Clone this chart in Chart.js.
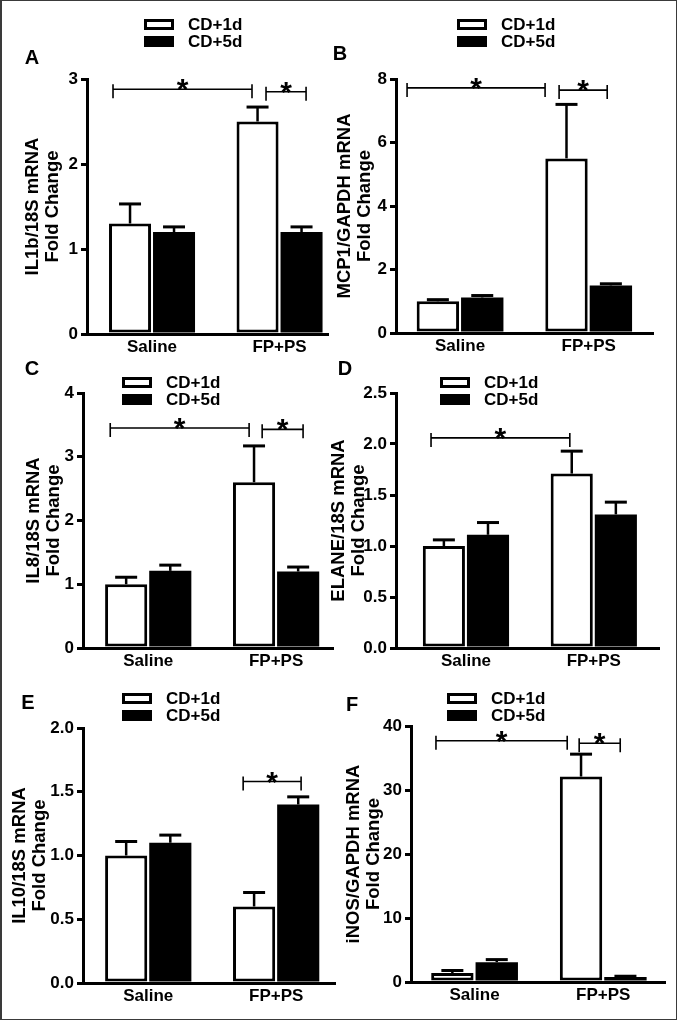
<!DOCTYPE html>
<html><head><meta charset="utf-8">
<script src="https://cdn.jsdelivr.net/npm/chart.js@4.4.1/dist/chart.umd.min.js"></script>
<style>
html,body{margin:0;padding:0;background:#fff;}
#wrap{position:relative;width:677px;height:1020px;overflow:hidden;background:#fff;}
#frame{position:absolute;left:0;top:0;width:677px;height:1020px;box-sizing:border-box;border:1px solid #3a3a3a;border-left-width:2px;pointer-events:none;}
canvas{position:absolute;}
</style></head><body>
<div id="wrap">
<canvas id="cA"></canvas><canvas id="cB"></canvas><canvas id="cC"></canvas>
<canvas id="cD"></canvas><canvas id="cE"></canvas><canvas id="cF"></canvas>
<div id="frame"></div>
</div>
<script>
// ---------- data ----------
const categories = ['Saline', 'FP+PS'];
const seriesLabels = ['CD+1d', 'CD+5d'];
const yTitleA = ['IL1b/18S mRNA', 'Fold Change'];
const yTitleB = ['MCP1/GAPDH mRNA', 'Fold Change'];
const yTitleC = ['IL8/18S mRNA', 'Fold Change'];
const yTitleD = ['ELANE/18S mRNA', 'Fold Change'];
const yTitleE = ['IL10/18S mRNA', 'Fold Change'];
const yTitleF = ['iNOS/GAPDH mRNA', 'Fold Change'];

// A: IL1b
const il1bCD1 = [1.3, 2.5];   const il1bCD1Err = [0.23, 0.17];
const il1bCD5 = [1.2, 1.2];   const il1bCD5Err = [0.06, 0.06];
// B: MCP1
const mcp1CD1 = [1.0, 5.5];   const mcp1CD1Err = [0.05, 1.7];
const mcp1CD5 = [1.12, 1.5];  const mcp1CD5Err = [0.06, 0.05];
// C: IL8
const il8CD1 = [1.0, 2.6];    const il8CD1Err = [0.11, 0.57];
const il8CD5 = [1.21, 1.2];   const il8CD5Err = [0.09, 0.07];
// D: ELANE
const elaneCD1 = [1.0, 1.71]; const elaneCD1Err = [0.06, 0.22];
const elaneCD5 = [1.11, 1.31]; const elaneCD5Err = [0.12, 0.12];
// E: IL10
const il10CD1 = [1.0, 0.6];   const il10CD1Err = [0.11, 0.11];
const il10CD5 = [1.1, 1.4];   const il10CD5Err = [0.06, 0.06];
// F: iNOS
const inosCD1 = [1.4, 32.1];  const inosCD1Err = [0.4, 3.5];
const inosCD5 = [3.1, 0.8];   const inosCD5Err = [0.4, 0.1];

// y-axis ticks (max, step)
const yTicksA = [3, 1];  const yTicksB = [8, 2];  const yTicksC = [4, 1];
const yTicksD = [2.5, 0.5]; const yTicksE = [2.0, 0.5]; const yTicksF = [40, 10];

// significance brackets: [from x, to x, at y] in axis units (groups at x = 1, 2)
const sigA = [[0.694, 1.784, 2.88], [1.894, 2.208, 2.85]];
const sigB = [[0.588, 1.661, 7.72], [1.770, 2.144, 7.65]];
const sigC = [[0.703, 1.789, 3.45], [1.891, 2.211, 3.43]];
const sigD = [[0.727, 1.8125, 2.06]];
const sigE = [[1.742, 2.195, 1.58]];
const sigF = [[0.700, 1.720, 37.7], [1.813, 2.132, 37.3]];

// ---------- layout (page px) ----------
const FONT = "'Liberation Sans', Arial, Helvetica, sans-serif";
const TITLE_SIZE = 18.5, TITLE_LH = 1.05;
const LH = TITLE_SIZE * TITLE_LH;

const panels = [
  {id:'cA', rect:[0,0,338,362],   area:[87,79,328,334],  titleX:33,  xr:[0.49,2.38],  yt:yTicksA, dec:0, title:yTitleA,
   cd1:il1bCD1, cd1e:il1bCD1Err, cd5:il1bCD5, cd5e:il1bCD5Err, sig:sigA, legend:[144,19], letter:['A',32,58]},
  {id:'cB', rect:[330,0,347,362], area:[396,79,653,333], titleX:345, xr:[0.502,2.50], yt:yTicksB, dec:0, title:yTitleB,
   cd1:mcp1CD1, cd1e:mcp1CD1Err, cd5:mcp1CD5, cd5e:mcp1CD5Err, sig:sigB, legend:[457,19], letter:['B',340,54]},
  {id:'cC', rect:[0,358,338,314], area:[83,393,333,648], titleX:34,  xr:[0.49,2.445], yt:yTicksC, dec:0, title:yTitleC,
   cd1:il8CD1, cd1e:il8CD1Err, cd5:il8CD5, cd5e:il8CD5Err, sig:sigC, legend:[122,377], letter:['C',32,369]},
  {id:'cD', rect:[330,358,347,314], area:[396,393,659,648], titleX:339, xr:[0.453,2.51], yt:yTicksD, dec:1, title:yTitleD,
   cd1:elaneCD1, cd1e:elaneCD1Err, cd5:elaneCD5, cd5e:elaneCD5Err, sig:sigD, legend:[440,377], letter:['D',345,369]},
  {id:'cE', rect:[0,680,338,340], area:[83,728,335,983], titleX:20,  xr:[0.49,2.46],  yt:yTicksE, dec:1, title:yTitleE,
   cd1:il10CD1, cd1e:il10CD1Err, cd5:il10CD5, cd5e:il10CD5Err, sig:sigE, legend:[122,693], letter:['E',28,703]},
  {id:'cF', rect:[330,680,347,340], area:[411,726,665,982], titleX:354, xr:[0.506,2.48], yt:yTicksF, dec:0, title:yTitleF,
   cd1:inosCD1, cd1e:inosCD1Err, cd5:inosCD5, cd5e:inosCD5Err, sig:sigF, legend:[447,693], letter:['F',352,705]}
];

Chart.defaults.font.family = FONT;
Chart.defaults.font.weight = 'bold';
Chart.defaults.font.size = 17;
Chart.defaults.color = '#000';

const decor = {
  id: 'decor',
  afterDatasetsDraw(chart, args, o) {
    const ctx = chart.ctx, xs = chart.scales.x, ys = chart.scales.y;
    ctx.save();
    ctx.strokeStyle = '#000';
    ctx.fillStyle = '#000';
    chart.data.datasets.forEach((ds, i) => {
      const meta = chart.getDatasetMeta(i);
      meta.data.forEach((el, j) => {
        const v = ds.data[j].y, e = ds.errorBars[j];
        const yBar = ys.getPixelForValue(v);
        const yTop = ys.getPixelForValue(v + e);
        ctx.lineWidth = 2.5;
        ctx.beginPath(); ctx.moveTo(el.x, yBar); ctx.lineTo(el.x, yTop); ctx.stroke();
        ctx.lineWidth = 3;
        ctx.beginPath(); ctx.moveTo(el.x - 11, yTop); ctx.lineTo(el.x + 11, yTop); ctx.stroke();
      });
    });
    o.sig.forEach(([a, b, v]) => {
      const x1 = xs.getPixelForValue(a), x2 = xs.getPixelForValue(b), y = ys.getPixelForValue(v);
      ctx.lineWidth = 1.6;
      ctx.beginPath();
      ctx.moveTo(x1, y); ctx.lineTo(x2, y);
      ctx.moveTo(x1, y - 5); ctx.lineTo(x1, y + 9);
      ctx.moveTo(x2, y - 5); ctx.lineTo(x2, y + 9);
      ctx.stroke();
      ctx.font = 'bold 30px ' + FONT;
      ctx.textAlign = 'center';
      ctx.textBaseline = 'alphabetic';
      ctx.fillText('*', (x1 + x2) / 2, y + 10);
    });
    ctx.restore();
  },
  afterDraw(chart, args, o) {
    const ctx = chart.ctx;
    const ox = o.rect[0], oy = o.rect[1];
    ctx.save();
    const bx = o.legend[0] - ox, by = o.legend[1] - oy;
    chart.data.datasets.forEach((ds, i) => {
      const y = by + i * 17;
      if (ds.borderWidth) {
        ctx.fillStyle = '#000';
        ctx.fillRect(bx, y, 30, 11);
        ctx.fillStyle = ds.backgroundColor;
        ctx.fillRect(bx + 3, y + 3, 24, 5);
      } else {
        ctx.fillStyle = ds.backgroundColor;
        ctx.fillRect(bx, y, 30, 11);
      }
      ctx.fillStyle = '#000';
      ctx.font = 'bold 17px ' + FONT;
      ctx.textAlign = 'left';
      ctx.textBaseline = 'middle';
      ctx.fillText(ds.label, bx + 44, y + 6.5);
    });
    ctx.font = 'bold 20px ' + FONT;
    ctx.textAlign = 'center';
    ctx.textBaseline = 'middle';
    ctx.fillText(o.letter[0], o.letter[1] - ox, o.letter[2] - oy);
    ctx.restore();
  }
};

panels.forEach(p => {
  const cv = document.getElementById(p.id);
  const [cx, cy, cw, ch] = p.rect;
  const [L, T, R, B] = p.area;
  cv.width = cw; cv.height = ch;
  cv.style.left = cx + 'px'; cv.style.top = cy + 'px';
  cv.style.width = cw + 'px'; cv.style.height = ch + 'px';
  const XH = 24;
  const padLeft = (p.titleX - cx) - LH / 2;
  const yW = L - cx - padLeft;
  const mk = (vals) => vals.map((v, i) => ({x: i + 1, y: v}));
  new Chart(cv, {
    type: 'bar',
    data: {
      datasets: [
        {label: seriesLabels[0], data: mk(p.cd1), errorBars: p.cd1e, backgroundColor: '#ffffff', borderColor: '#000', borderWidth: 3, borderSkipped: false, categoryPercentage: 0.69, barPercentage: 0.955},
        {label: seriesLabels[1], data: mk(p.cd5), errorBars: p.cd5e, backgroundColor: '#000000', borderColor: '#000', borderWidth: 0, categoryPercentage: 0.69, barPercentage: 0.955}
      ]
    },
    options: {
      responsive: false, animation: false, devicePixelRatio: 1,
      layout: {padding: {left: padLeft, top: T - cy, right: cx + cw - R, bottom: cy + ch - B - XH}},
      plugins: {legend: {display: false}, tooltip: {enabled: false},
        decor: {sig: p.sig, legend: p.legend, letter: p.letter, rect: p.rect}},
      scales: {
        x: {
          type: 'linear', min: p.xr[0], max: p.xr[1], offset: false,
          afterBuildTicks: s => { s.ticks = categories.map((c, i) => ({value: i + 1})); },
          afterFit: s => { s.height = XH; },
          ticks: {callback: v => categories[Math.round(v) - 1] || '', padding: 3, maxRotation: 0, autoSkip: false, font: {size: 17, weight: 'bold'}, color: '#000'},
          grid: {display: false, drawTicks: false, tickLength: 0},
          border: {display: true, width: 3, color: '#000'}
        },
        y: {
          min: 0, max: p.yt[0],
          afterFit: s => { s.width = yW; },
          ticks: {stepSize: p.yt[1], padding: 3, callback: v => Number(v).toFixed(p.dec), font: {size: 17, weight: 'bold'}, color: '#000'},
          grid: {drawOnChartArea: false, drawTicks: true, tickLength: 6, tickWidth: 3, tickColor: '#000', lineWidth: 3, color: '#000'},
          border: {display: true, width: 3, color: '#000'},
          title: {display: true, text: p.title, padding: 0, color: '#000', font: {size: TITLE_SIZE, weight: 'bold', lineHeight: TITLE_LH}}
        }
      }
    },
    plugins: [decor]
  });
});
</script>
</body></html>
